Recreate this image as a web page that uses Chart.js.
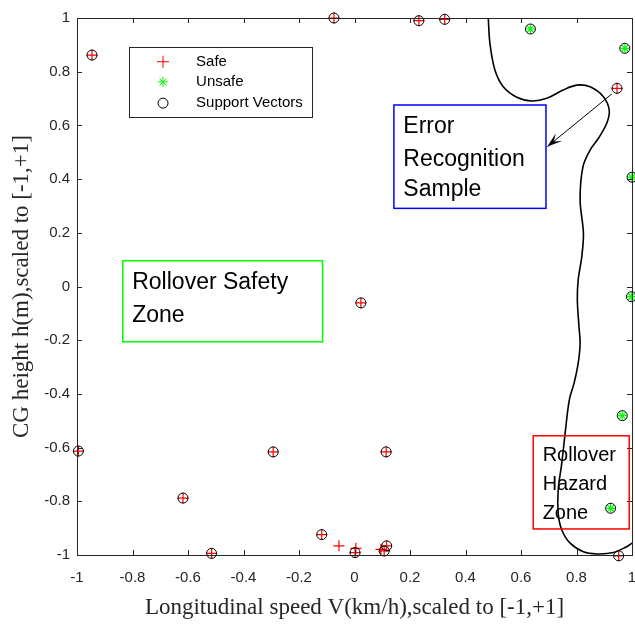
<!DOCTYPE html>
<html><head><meta charset="utf-8">
<script src="https://cdn.jsdelivr.net/npm/chart.js@4.4.1/dist/chart.umd.min.js"></script>
<style>html,body{margin:0;padding:0;background:#fff}#wrap{width:635px;height:625px}</style>
</head><body><div id="wrap"><canvas id="c" width="635" height="625"></canvas></div>
<script>
// ---- data ----
const xTickValues = [-1,-0.8,-0.6,-0.4,-0.2,0,0.2,0.4,0.6,0.8,1];
const xTickLabels = ['-1','-0.8','-0.6','-0.4','-0.2','0','0.2','0.4','0.6','0.8','1'];
const yTickValues = [-1,-0.8,-0.6,-0.4,-0.2,0,0.2,0.4,0.6,0.8,1];
const yTickLabels = ['-1','-0.8','-0.6','-0.4','-0.2','0','0.2','0.4','0.6','0.8','1'];

const seriesNames = ['Safe','Unsafe','Support Vectors'];

const safeX  = [-0.946,-0.074,0.232,0.325,0.946,0.952,0.023,-0.995,-0.618,-0.515,-0.293,-0.118,0.114,-0.056,0.005,0.002,0.095,0.107,0.116];
const safeY  = [0.862,1.000,0.990,0.995,0.738,-1.003,-0.061,-0.613,-0.788,-0.994,-0.616,-0.924,-0.616,-0.966,-0.975,-0.991,-0.979,-0.985,-0.966];
const safeSV = [1,1,1,1,1,1,1,1,1,1,1,1,1,0,0,1,0,1,1];

const unsafeX = [0.634,0.974,1.000,0.998,0.965,0.923];
const unsafeY = [0.959,0.887,0.407,-0.038,-0.481,-0.826];

const boundaryX = [0.482,0.488,0.506,0.536,0.585,0.639,0.693,0.752,0.801,0.849,0.897,0.918,0.909,0.879,0.849,0.823,0.813,0.825,0.819,0.806,0.803,0.809,0.813,0.806,0.791,0.774,0.759,0.747,0.734,0.734,0.747,0.777,0.825,0.873,0.933,0.981,1.000];
const boundaryY = [1.000,0.906,0.806,0.744,0.705,0.691,0.701,0.732,0.750,0.744,0.707,0.657,0.608,0.552,0.508,0.445,0.322,0.198,0.111,0.024,-0.050,-0.150,-0.212,-0.286,-0.361,-0.423,-0.547,-0.658,-0.758,-0.845,-0.907,-0.956,-0.988,-0.996,-0.991,-0.969,-0.956];

const xTitle = 'Longitudinal speed V(km/h),scaled to [-1,+1]';
const yTitle = 'CG height h(m),scaled to [-1,+1]';

// annotation layout (data coordinates)
const notes = [
  {lines:['Error','Recognition','Sample'], color:'#0000ff', x1:0.142, x2:0.690, y1:0.676, y2:0.291, tx:0.176, ty:[0.595,0.471,0.359], size:23},
  {lines:['Rollover Safety','Zone'], color:'#00ff00', x1:-0.835, x2:-0.115, y1:0.096, y2:-0.206, tx:-0.801, ty:[0.014,-0.110], size:23},
  {lines:['Rollover','Hazard','Zone'], color:'#ff0000', x1:0.644, x2:0.990, y1:-0.556, y2:-0.903, tx:0.678, ty:[-0.631,-0.737,-0.845], size:20}
];
const arrow = {x0:0.927, y0:0.717, x1:0.695, y1:0.521};
const legendBox = {x1:-0.813, x2:-0.153, y1:0.892, y2:0.631, mx:-0.690, tx:-0.571, rows:[0.837,0.762,0.683]};

// ---- build datasets ----
const safePts = safeX.map((x,i)=>({x, y:safeY[i]}));
const unsafePts = unsafeX.map((x,i)=>({x, y:unsafeY[i]}));
const svPts = safePts.filter((p,i)=>safeSV[i]).concat(unsafePts);
const boundaryPts = boundaryX.map((x,i)=>({x, y:boundaryY[i]}));

const SANS = '"Liberation Sans", Arial, Helvetica, sans-serif';
const SERIF = '"Liberation Serif", "Times New Roman", serif';
const AX = '#262626';

const deco = {
  id:'deco',
  afterDraw(chart){
    const ctx = chart.ctx, xs = chart.scales.x, ys = chart.scales.y, a = chart.chartArea;
    const px = v=>xs.getPixelForValue(v), py = v=>ys.getPixelForValue(v);
    ctx.save();
    // axes box
    ctx.strokeStyle = AX; ctx.lineWidth = 1;
    ctx.strokeRect(Math.round(a.left)+0.5, Math.round(a.top)+0.5, Math.round(a.right-a.left), Math.round(a.bottom-a.top));
    // inward ticks
    ctx.beginPath();
    xTickValues.forEach(v=>{ const X = Math.round(px(v))+0.5;
      ctx.moveTo(X,a.bottom); ctx.lineTo(X,a.bottom-5); ctx.moveTo(X,a.top); ctx.lineTo(X,a.top+5); });
    yTickValues.forEach(v=>{ const Y = Math.round(py(v))+0.5;
      ctx.moveTo(a.left,Y); ctx.lineTo(a.left+5,Y); ctx.moveTo(a.right,Y); ctx.lineTo(a.right-5,Y); });
    ctx.stroke();
    // annotation boxes
    notes.forEach(n=>{
      ctx.strokeStyle = n.color; ctx.lineWidth = 1.5;
      ctx.strokeRect(px(n.x1), py(n.y1), px(n.x2)-px(n.x1), py(n.y2)-py(n.y1));
      ctx.fillStyle = '#000'; ctx.font = n.size+'px '+SANS; ctx.textAlign='left'; ctx.textBaseline='middle';
      n.lines.forEach((t,i)=>ctx.fillText(t, px(n.tx), py(n.ty[i])));
    });
    // arrow
    const ax0=px(arrow.x0), ay0=py(arrow.y0), ax1=px(arrow.x1), ay1=py(arrow.y1);
    ctx.strokeStyle='#000'; ctx.lineWidth=1;
    ctx.beginPath(); ctx.moveTo(ax0,ay0); ctx.lineTo(ax1,ay1); ctx.stroke();
    const ang = Math.atan2(ay1-ay0, ax1-ax0), L=15, W=5;
    const ux=Math.cos(ang), uy=Math.sin(ang), nx=-uy, ny=ux;
    ctx.fillStyle='#000'; ctx.beginPath();
    ctx.moveTo(ax1,ay1);
    ctx.lineTo(ax1-ux*L+nx*W, ay1-uy*L+ny*W);
    ctx.lineTo(ax1-ux*L*0.55, ay1-uy*L*0.55);
    ctx.lineTo(ax1-ux*L-nx*W, ay1-uy*L-ny*W);
    ctx.closePath(); ctx.fill();
    // legend
    const lx1=px(legendBox.x1), ly1=py(legendBox.y1), lx2=px(legendBox.x2), ly2=py(legendBox.y2);
    ctx.fillStyle='#fff'; ctx.fillRect(lx1,ly1,lx2-lx1,ly2-ly1);
    ctx.strokeStyle=AX; ctx.lineWidth=1; ctx.strokeRect(Math.round(lx1)+0.5,Math.round(ly1)+0.5,Math.round(lx2-lx1),Math.round(ly2-ly1));
    const mx=px(legendBox.mx), tx=px(legendBox.tx);
    const r = legendBox.rows.map(py);
    ctx.lineWidth=1;
    ctx.strokeStyle='#ff0000'; ctx.beginPath(); ctx.moveTo(mx-6,r[0]); ctx.lineTo(mx+6,r[0]); ctx.moveTo(mx,r[0]-6); ctx.lineTo(mx,r[0]+6); ctx.stroke();
    ctx.strokeStyle='#00ff00'; ctx.beginPath();
    for(let k=0;k<4;k++){const t=k*Math.PI/4; ctx.moveTo(mx-5*Math.cos(t),r[1]-5*Math.sin(t)); ctx.lineTo(mx+5*Math.cos(t),r[1]+5*Math.sin(t));}
    ctx.stroke();
    ctx.strokeStyle='#000'; ctx.beginPath(); ctx.arc(mx,r[2],5,0,Math.PI*2); ctx.stroke();
    ctx.fillStyle='#000'; ctx.font='15px '+SANS; ctx.textAlign='left'; ctx.textBaseline='middle';
    seriesNames.forEach((s,i)=>ctx.fillText(s,tx,r[i]));
    ctx.restore();
  }
};

new Chart(document.getElementById('c'), {
  type:'scatter',
  data:{ datasets:[
    {label:'boundary', type:'line', data:boundaryPts, borderColor:'#000', borderWidth:1.6, pointRadius:0, tension:0.35, fill:false, clip:false, order:3},
    {label:seriesNames[0], data:safePts, pointStyle:'cross', pointRadius:5.5, borderColor:'#ff0000', backgroundColor:'#ff0000', pointBorderWidth:1.2, clip:false, order:2},
    {label:seriesNames[1], data:unsafePts, pointStyle:'star', pointRadius:4.5, borderColor:'#00ff00', backgroundColor:'#00ff00', pointBorderWidth:1.2, clip:false, order:1},
    {label:seriesNames[2], data:svPts, pointStyle:'circle', pointRadius:5, borderColor:'#000', backgroundColor:'rgba(0,0,0,0)', pointBorderWidth:1, clip:false, order:0}
  ]},
  options:{
    responsive:false, devicePixelRatio:1, animation:false,
    layout:{autoPadding:false, padding:{top:18,right:3,left:0,bottom:0}},
    plugins:{legend:{display:false}, tooltip:{enabled:false}},
    scales:{
      x:{type:'linear', min:-1, max:1,
        afterBuildTicks:s=>{s.ticks = xTickValues.map(v=>({value:v}));},
        afterFit:s=>{s.height=70; s.paddingLeft=0; s.paddingRight=0;},
        grid:{display:false, tickLength:0}, border:{display:false},
        ticks:{padding:14, color:AX, font:{family:SANS,size:15}, maxRotation:0, autoSkip:false,
          callback:(v)=>{const i=xTickValues.findIndex(t=>Math.abs(t-v)<1e-9); return i>=0?xTickLabels[i]:'';}},
        title:{display:true, text:xTitle, color:AX, font:{family:SERIF,size:23}, padding:{top:0,bottom:3}}
      },
      y:{type:'linear', min:-1, max:1,
        afterBuildTicks:s=>{s.ticks = yTickValues.map(v=>({value:v}));},
        afterFit:s=>{s.width=77; s.paddingTop=0; s.paddingBottom=0;},
        grid:{display:false, tickLength:0}, border:{display:false},
        ticks:{padding:7, color:AX, font:{family:SANS,size:15}, autoSkip:false,
          callback:(v)=>{const i=yTickValues.findIndex(t=>Math.abs(t-v)<1e-9); return i>=0?yTickLabels[i]:'';}},
        title:{display:true, text:yTitle, color:AX, font:{family:SERIF,size:23}, padding:{top:8,bottom:0}}
      }
    }
  },
  plugins:[deco]
});
</script>
</body></html>
